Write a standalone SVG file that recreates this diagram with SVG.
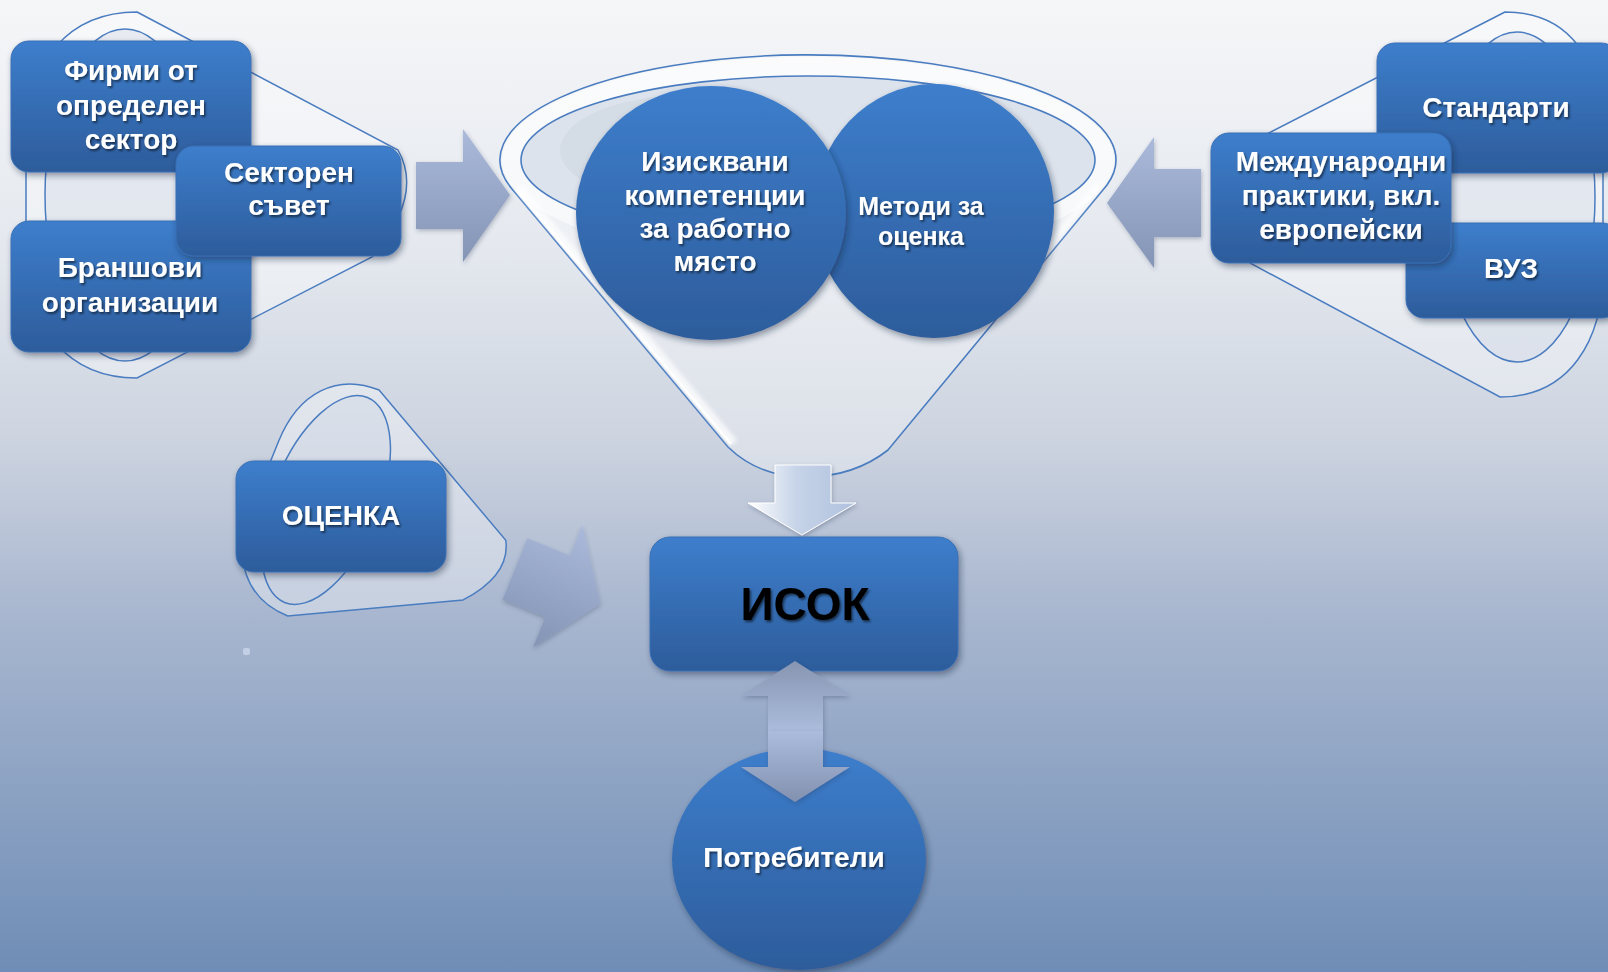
<svg xmlns="http://www.w3.org/2000/svg" width="1608" height="972" viewBox="0 0 1608 972">
<defs>
<linearGradient id="bg" x1="0" y1="0" x2="0" y2="1">
<stop offset="0" stop-color="#f5f6f8"/>
<stop offset="0.25" stop-color="#e5e9ef"/>
<stop offset="0.45" stop-color="#cdd4e0"/>
<stop offset="0.62" stop-color="#aab8d0"/>
<stop offset="1" stop-color="#6f8db6"/>
</linearGradient>
<linearGradient id="boxg" x1="0" y1="0" x2="0" y2="1">
<stop offset="0" stop-color="#3d7ecc"/>
<stop offset="1" stop-color="#2d5c9b"/>
</linearGradient>
<linearGradient id="arrg" x1="0" y1="0" x2="0" y2="1">
<stop offset="0" stop-color="#abbadb"/>
<stop offset="1" stop-color="#8494b4"/>
</linearGradient>
<linearGradient id="upg" x1="0" y1="0" x2="0" y2="1">
<stop offset="0" stop-color="#8795b1"/>
<stop offset="1" stop-color="#abbcdc"/>
</linearGradient>
<linearGradient id="dng" x1="0" y1="0" x2="0" y2="1">
<stop offset="0" stop-color="#abbcdc"/>
<stop offset="1" stop-color="#8391b0"/>
</linearGradient>
<linearGradient id="glassArr" x1="0" y1="0" x2="1" y2="0">
<stop offset="0" stop-color="#ffffff"/>
<stop offset="0.45" stop-color="#c6d3e8"/>
<stop offset="1" stop-color="#b0c1de"/>
</linearGradient>
<filter id="sh" x="-20%" y="-20%" width="140%" height="150%">
<feDropShadow dx="2" dy="3" stdDeviation="3" flood-color="#14243c" flood-opacity="0.45"/>
</filter>
<filter id="tsh" x="-10%" y="-20%" width="120%" height="150%">
<feDropShadow dx="1.5" dy="2" stdDeviation="1.2" flood-color="#000" flood-opacity="0.55"/>
</filter>
<filter id="soft" x="-10%" y="-10%" width="120%" height="130%">
<feDropShadow dx="1" dy="2" stdDeviation="2" flood-color="#2a3a55" flood-opacity="0.3"/>
</filter>
<filter id="blur2"><feGaussianBlur stdDeviation="2"/></filter>
</defs>
<style>
.box{fill:url(#boxg);stroke:#3a70b6;stroke-width:1;filter:url(#sh)}
.cir{fill:url(#boxg);filter:url(#sh)}
.t{font-family:"Liberation Sans",Arial,sans-serif;font-weight:bold;font-size:28px;fill:#ffffff;text-anchor:middle;filter:url(#tsh)}
.cone{fill:#ffffff;fill-opacity:0.35;stroke:#4a7cc0;stroke-width:1.5}
.inner{fill:#c8d2e1;fill-opacity:0.3;stroke:#4a7cc0;stroke-width:1.5}
.arr{fill:url(#arrg);filter:url(#soft)}
.fl{stroke:#4a7cc0;stroke-width:1.6}
</style>
<rect width="1608" height="972" fill="url(#bg)"/>

<g id="left-cone">
<path class="cone" d="M137,12 L398,150 Q424,196 372,257 L137,378 C70,378 26,330 26,250 L26,140 C26,60 70,12 137,12 Z"/>
<ellipse class="inner" cx="125" cy="195" rx="80" ry="166"/>
</g>
<g id="right-cone">
<path class="cone" d="M1505,12 L1265,135 Q1188,200 1250,263 L1500,397 C1570,397 1603,340 1603,270 L1603,140 C1603,60 1570,12 1505,12 Z"/>
<ellipse class="inner" cx="1517" cy="197" rx="78" ry="165"/>
</g>
<g id="ocenka-cone" transform="translate(326,500) rotate(22) scale(0.666)">
<path class="cone" vector-effect="non-scaling-stroke" d="M12,-183 L273,-45 Q299,1 247,62 L12,183 C-55,183 -99,135 -99,55 L-99,-55 C-99,-135 -55,-183 12,-183 Z"/>
<ellipse class="inner" vector-effect="non-scaling-stroke" cx="0" cy="0" rx="80" ry="166"/>
</g>

<g id="funnel">
<path class="fl" d="M512,189 A308,105 0 1 1 1107,185 L888,450 Q855,476 808,477 Q760,478 728,447 Z" fill="#ffffff" fill-opacity="0.3"/>
<ellipse cx="808" cy="160" rx="306" ry="103" fill="#ffffff" fill-opacity="0.55"/>
<path d="M519,188 L734,443" stroke="#ffffff" stroke-width="8" stroke-opacity="0.75" fill="none" filter="url(#blur2)"/>
<path d="M517,190 L731,444" stroke="#ffffff" stroke-width="3" stroke-opacity="0.9" fill="none"/>
<path d="M1099,184 L1010,296" stroke="#ffffff" stroke-width="7" stroke-opacity="0.7" fill="none" filter="url(#blur2)"/>
<ellipse cx="808" cy="160" rx="287" ry="84" fill="#dde3ec" class="fl"/>
<ellipse cx="690" cy="150" rx="130" ry="55" fill="#cfd7e3" opacity="0.6"/>
</g>

<g id="connectors">
<path id="arr-left" class="arr" d="M416,162 L463,162 L463,129 L510,195 L463,262 L463,229 L416,229 Z"/>
<path id="arr-right" class="arr" d="M1201,169 L1154,169 L1154,137 L1107,203 L1154,268 L1154,237 L1201,237 Z"/>
<path id="arr-ocenka" class="arr" transform="translate(515,569) rotate(22)" d="M0,-33 L46,-33 L46,-66 L92,0 L46,66 L46,33 L0,33 Z"/>
<path id="arr-down" d="M775,465 L831,465 L831,503 L856,503 L802,535 L748,503 L775,503 Z" fill="url(#glassArr)" stroke="#ffffff" stroke-width="1" filter="url(#soft)"/>
</g>

<g id="n-firmi"><rect class="box" x="11" y="41" width="240" height="131" rx="18"/>
<text class="t" x="131" y="80">Фирми от</text><text class="t" x="131" y="115">определен</text><text class="t" x="131" y="149">сектор</text></g>
<g id="n-bransh"><rect class="box" x="11" y="221" width="240" height="131" rx="18"/>
<text class="t" x="130" y="277">Браншови</text><text class="t" x="130" y="312">организации</text></g>
<g id="n-sektoren"><rect class="box" x="176" y="146" width="225" height="110" rx="18"/>
<text class="t" x="289" y="182">Секторен</text><text class="t" x="289" y="215">съвет</text></g>

<g id="n-standarti"><rect class="box" x="1377" y="43" width="242" height="130" rx="18"/>
<text class="t" x="1496" y="117">Стандарти</text></g>
<g id="n-vuz"><rect class="box" x="1406" y="223" width="214" height="95" rx="18"/>
<text class="t" x="1511" y="278">ВУЗ</text></g>
<g id="n-mezhd"><rect class="box" x="1211" y="133" width="240" height="130" rx="18"/>
<text class="t" x="1341" y="171">Международни</text><text class="t" x="1341" y="205">практики, вкл.</text><text class="t" x="1341" y="239">европейски</text></g>

<g id="n-metodi"><ellipse class="cir" cx="934" cy="211" rx="120" ry="127"/>
<text class="t" x="921" y="215" style="font-size:25px">Методи за</text><text class="t" x="921" y="245" style="font-size:25px">оценка</text></g>
<g id="n-iziskvani"><ellipse class="cir" cx="711" cy="213" rx="135" ry="127"/>
<text class="t" x="715" y="171">Изисквани</text><text class="t" x="715" y="205">компетенции</text><text class="t" x="715" y="238">за работно</text><text class="t" x="715" y="271">място</text></g>

<g id="n-ocenka"><rect class="box" x="236" y="461" width="210" height="111" rx="18"/>
<text class="t" x="341" y="525">ОЦЕНКА</text></g>

<g id="n-isok"><rect class="box" x="650" y="537" width="308" height="134" rx="20"/>
<text x="805" y="620" font-family="Liberation Sans, Arial, sans-serif" font-weight="bold" font-size="46" fill="#000000" text-anchor="middle" filter="url(#tsh)">ИСОК</text></g>

<g id="n-potrebiteli"><ellipse class="cir" cx="799" cy="859" rx="127" ry="111"/>
<text class="t" x="794" y="867">Потребители</text></g>

<g id="connectors-double">
<path d="M795,661 L850,696 L823,696 L823,731 L768,731 L768,696 L741,696 Z" fill="url(#upg)" filter="url(#soft)"/>
<path d="M768,731 L823,731 L823,767 L850,767 L795,802 L741,767 L768,767 Z" fill="url(#dng)" filter="url(#soft)"/>
</g>
<rect x="243" y="648" width="7" height="7" rx="2" fill="#c3cfe4"/>
</svg>
